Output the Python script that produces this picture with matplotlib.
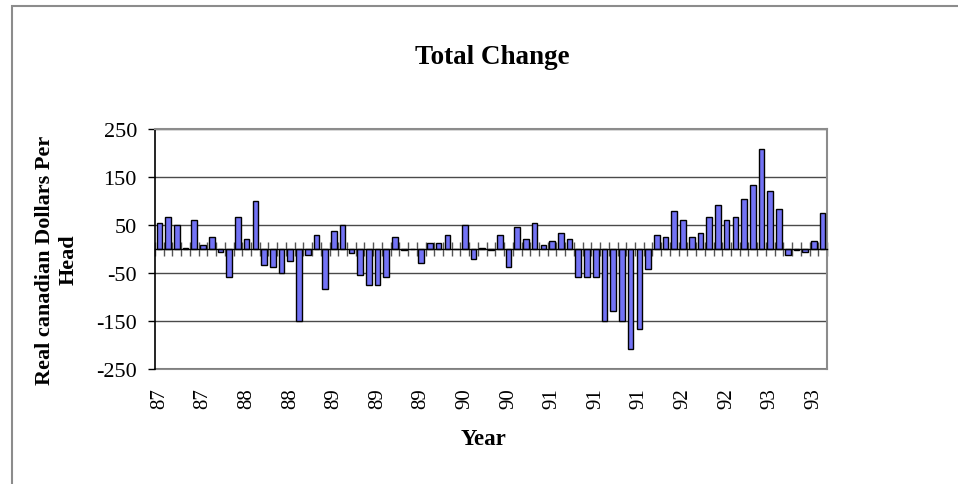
import numpy as np
import matplotlib
matplotlib.use("Agg")
import matplotlib.pyplot as plt
from matplotlib.patches import Rectangle

# Monthly change, May 1987 onward (real Canadian dollars per head)
values = [54, 67, 50, 3, 60, 9, 26, -7, -59, 67,
          21, 100, -33, -37, -50, -25, -150, -13, 30, -84,
          38, 50, -8, -55, -74, -74, -59, 26, -3, 0,
          -30, 12, 12, 30, 0, 50, -21, 3, -2, 30,
          -37, 45, 21, 54, 9, 16, 34, 21, -59, -59,
          -59, -150, -130, -150, -208, -167, -42, 30, 26, 80,
          60, 26, 34, 67, 92, 60, 67, 105, 134, 208,
          121, 83, -12, -2, -7, 17, 76]
year_labels = ["87", "87", "88", "88", "89", "89", "89", "90",
               "90", "91", "91", "91", "92", "92", "93", "93"]
label_step = 5
y_ticks = [-250, -150, -50, 50, 150, 250]

plt.rcParams["font.family"] = ["Liberation Serif", "DejaVu Serif"]

W, H = 958, 485
fig = plt.figure(figsize=(W / 100, H / 100), dpi=100)

# outer chart frame
fig.patches.append(Rectangle((12 / W, -0.1), 1.2, 1 - 7 / H + 0.1,
                             transform=fig.transFigure, fill=False,
                             edgecolor="#8c8c8c", linewidth=1.5))

ax = fig.add_axes([155 / W, 1 - 370 / H, 672 / W, 240 / H])

n = len(values)
x = np.arange(n)
ax.bar(x, values, width=0.64, color="#7373F5", edgecolor="black",
       linewidth=1.0, zorder=3)

ax.set_xlim(-0.5, n - 0.5)
ax.set_ylim(y_ticks[0], y_ticks[-1])

# value axis
ax.set_yticks(y_ticks, labels=[str(v) for v in y_ticks])
ax.tick_params(axis="y", direction="out", length=5, width=1, pad=8,
               labelsize=16, color="black")
ax.grid(axis="y", color="#4a4a4a", linewidth=1.0, zorder=1)
ax.set_axisbelow(True)

# category axis drawn through zero, ticks between categories
ax.spines["bottom"].set_position(("data", 0))
ax.spines["bottom"].set_color("black")
ax.spines["bottom"].set_linewidth(1.0)
ax.spines["bottom"].set_zorder(4)
ax.set_xticks(np.arange(n + 1) - 0.5)
ax.tick_params(axis="x", direction="inout", length=10, width=1,
               color="#555555", labelbottom=False)

ax.spines["left"].set_color("black")
ax.spines["left"].set_linewidth(1.2)
for side in ("top", "right"):
    ax.spines[side].set_color("#8c8c8c")
    ax.spines[side].set_linewidth(1.5)

# year labels along the bottom of the plot area
sec = ax.secondary_xaxis("bottom")
label_pos = x[::label_step][:len(year_labels)]
sec.set_xticks(label_pos, labels=year_labels, rotation=90)
sec.tick_params(length=0, pad=13, labelsize=15)
sec.spines["bottom"].set_color("#8c8c8c")
sec.spines["bottom"].set_linewidth(1.5)

fig.text(492 / W, 1 - 64 / H, "Total Change", ha="center", va="baseline",
         fontsize=19.5, fontweight="bold")
fig.text(484 / W, 1 - 445 / H, "Year", ha="center", va="baseline",
         fontsize=16.5, fontweight="bold")
fig.text(57 / W, 1 - 260 / H, "Real canadian Dollars Per\nHead",
         ha="center", va="center", rotation=90, multialignment="center",
         fontsize=16, fontweight="bold", linespacing=1.25)

fig.savefig("out.png", dpi=100)
